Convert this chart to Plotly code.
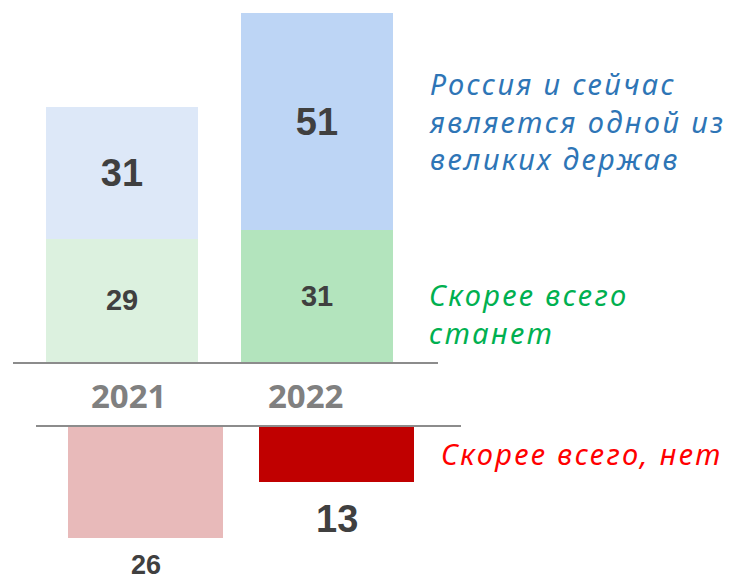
import plotly.graph_objects as go

# ---- data ----
years = ["2021", "2022"]
will_become = [29, 31]          # "Скорее всего станет"
great_power_now = [31, 51]      # "Россия и сейчас является одной из великих держав"
probably_not = [26, 13]         # "Скорее всего, нет"

label_great = ["Россия и сейчас", "является одной из", "великих держав"]
label_become = ["Скорее всего", "станет"]
label_not = ["Скорее всего, нет"]

# ---- styles / geometry (window pixels; page body has an 8px margin) ----
OFF = 8
W, H = 735 - OFF, 582 - OFF
num_font = "Liberation Sans, Arial, sans-serif"
num_color = "#404040"
ital_font = "Noto Sans, Open Sans, sans-serif"
green_cols = ["#dcf1df", "#b3e4bd"]
blue_cols = ["#dde8f8", "#bdd5f5"]
red_cols = ["#e8baba", "#c00000"]
axis_gray = "#8c8c8c"


def px_x(p):
    return (p - OFF) / W


def px_y(p):
    return 1 - (p - OFF) / H


fig = go.Figure()

fig.add_trace(go.Bar(
    x=years, y=will_become, marker=dict(color=green_cols, line=dict(width=0)),
    width=0.78, text=will_become, texttemplate="<b>%{text}</b>",
    textposition="inside", insidetextanchor="middle",
    textfont=dict(family=num_font, size=29, color=num_color),
    xaxis="x", yaxis="y", showlegend=False, hoverinfo="skip"))
fig.add_trace(go.Bar(
    x=years, y=great_power_now, marker=dict(color=blue_cols, line=dict(width=0)),
    width=0.78, text=great_power_now, texttemplate="<b>%{text}</b>",
    textposition="inside", insidetextanchor="middle",
    textfont=dict(family=num_font, size=38, color=num_color),
    xaxis="x", yaxis="y", showlegend=False, hoverinfo="skip"))
fig.add_trace(go.Bar(
    x=years, y=[-v for v in probably_not], marker=dict(color=red_cols, line=dict(width=0)),
    width=0.81, xaxis="x2", yaxis="y2", showlegend=False, hoverinfo="skip"))

# ---- layout ----
top_base_px = 362
top_scale = 4.256
bot_line_px = 426.5
bot_scale = 4.3

fig.update_layout(
    width=W, height=H, margin=dict(l=0, r=0, t=0, b=0),
    paper_bgcolor="white", plot_bgcolor="rgba(0,0,0,0)",
    barmode="stack", uniformtext=dict(mode=False),
    xaxis=dict(type="category", domain=[px_x(13), px_x(438)], range=[-0.559, 1.6205],
               showline=True, linecolor=axis_gray, linewidth=1.5,
               showticklabels=False, ticks="", showgrid=False, zeroline=False,
               anchor="y", fixedrange=True),
    yaxis=dict(domain=[px_y(top_base_px), px_y(OFF)],
               range=[0, (top_base_px - OFF) / top_scale],
               visible=False, showgrid=False, zeroline=False, anchor="x"),
    xaxis2=dict(type="category", domain=[px_x(36), px_x(460.5)], range=[-0.5733, 1.649],
                side="top", showline=True, linecolor=axis_gray, linewidth=1.5,
                showticklabels=False, ticks="", showgrid=False, zeroline=False,
                anchor="y2"),
    yaxis2=dict(domain=[0, px_y(bot_line_px)],
                range=[-(582 - bot_line_px) / bot_scale, 0],
                visible=False, showgrid=False, zeroline=False, anchor="x2"),
)

# year labels between the two panels
year_xshift = [6, -12]
for i, (yr, dx) in enumerate(zip(years, year_xshift)):
    fig.add_annotation(x=i, y=0, xref="x", yref="y", xshift=dx, yshift=-33,
                       text=f"<b>{yr}</b>", showarrow=False, yanchor="middle",
                       font=dict(family="Open Sans, sans-serif", size=33, color="#808080"))

# labels under the negative bars
label_sizes = [27, 38]
label_gaps = [27, 37]
for i, (v, size, gap) in enumerate(zip(probably_not, label_sizes, label_gaps)):
    fig.add_annotation(x=i, y=-v, xref="x2", yref="y2",
                       yshift=-gap, text=f"<b>{v}</b>", showarrow=False,
                       yanchor="middle",
                       font=dict(family=num_font, size=size, color=num_color))


# right side series labels
def add_block(lines, x_px, y_center, color, size, spacing):
    txt = "<br>".join(f'<span style="letter-spacing:{spacing}px">{t}</span>' for t in lines)
    fig.add_annotation(x=px_x(x_px), y=px_y(y_center), xref="paper", yref="paper",
                       text=f"<i>{txt}</i>", showarrow=False, xanchor="left",
                       yanchor="middle", align="left",
                       font=dict(family=ital_font, size=size, color=color))


add_block(label_great, 427, 121, "#2e75b6", 29, 2.4)
add_block(label_become, 427, 314, "#00b050", 29, 2.4)
add_block(label_not, 439, 454, "#ff0000", 29, 2.4)

fig.write_html("out.html")
